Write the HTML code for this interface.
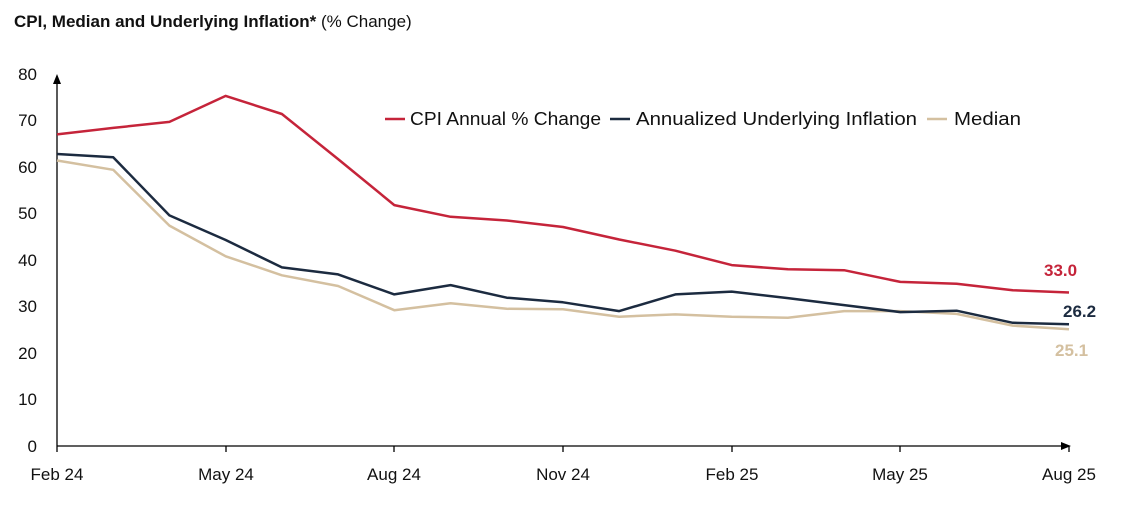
<!DOCTYPE html>
<html><head><meta charset="utf-8"><style>
body{margin:0;background:#fff;width:1121px;height:510px;overflow:hidden;font-family:"Liberation Sans",sans-serif;}
svg text{font-family:"Liberation Sans",sans-serif;}
</style></head><body>
<svg id="s" width="1121" height="510" xmlns="http://www.w3.org/2000/svg">
<text x="14" y="27" font-size="17" fill="#111"><tspan font-weight="bold">CPI, Median and Underlying Inflation*</tspan> (% Change)</text>
<g font-size="17" fill="#111" text-anchor="end">
<text x="37" y="80">80</text><text x="37" y="126">70</text><text x="37" y="173">60</text><text x="37" y="219">50</text><text x="37" y="266">40</text><text x="37" y="312">30</text><text x="37" y="359">20</text><text x="37" y="405">10</text><text x="37" y="452">0</text>
</g>
<line x1="57" y1="446" x2="57" y2="82" stroke="#000" stroke-width="1.3"/>
<polygon points="57,74 53,84 61,84" fill="#000"/>
<line x1="57" y1="446" x2="1062" y2="446" stroke="#000" stroke-width="1.3"/>
<polygon points="1071,446 1061,442 1061,450" fill="#000"/>
<g stroke="#000" stroke-width="1.3">
<line x1="57" y1="446" x2="57" y2="452"/><line x1="226" y1="446" x2="226" y2="452"/><line x1="394" y1="446" x2="394" y2="452"/><line x1="563" y1="446" x2="563" y2="452"/><line x1="732" y1="446" x2="732" y2="452"/><line x1="900" y1="446" x2="900" y2="452"/><line x1="1069" y1="446" x2="1069" y2="452"/>
</g>
<g font-size="17" fill="#111" text-anchor="middle">
<text x="57" y="480">Feb 24</text><text x="226" y="480">May 24</text><text x="394" y="480">Aug 24</text><text x="563" y="480">Nov 24</text><text x="732" y="480">Feb 25</text><text x="900" y="480">May 25</text><text x="1069" y="480">Aug 25</text>
</g>
<g id="lines"></g>
<line x1="385" y1="119" x2="405" y2="119" stroke="#c5243a" stroke-width="2.5"/>
<text x="410" y="125" font-size="18" fill="#111" textLength="191" lengthAdjust="spacingAndGlyphs">CPI Annual % Change</text>
<line x1="610" y1="119" x2="630" y2="119" stroke="#1c2b40" stroke-width="2.5"/>
<text x="636" y="125" font-size="18" fill="#111" textLength="281" lengthAdjust="spacingAndGlyphs">Annualized Underlying Inflation</text>
<line x1="927" y1="119" x2="947" y2="119" stroke="#d4c0a0" stroke-width="2.5"/>
<text x="954" y="125" font-size="18" fill="#111" textLength="67" lengthAdjust="spacingAndGlyphs">Median</text>
<text x="1044" y="276" font-size="17" font-weight="bold" fill="#c5243a">33.0</text>
<text x="1063" y="317" font-size="17" font-weight="bold" fill="#1c2b40">26.2</text>
<text x="1055" y="356" font-size="17" font-weight="bold" fill="#d4c0a0">25.1</text>
</svg>
<script>
var d={"#c5243a":[67,68.4,69.7,75.3,71.4,61.7,51.8,49.3,48.5,47.1,44.4,42.0,38.9,38.0,37.8,35.3,34.9,33.5,33.0],
"#1c2b40":[62.8,62.1,49.6,44.3,38.4,36.9,32.6,34.6,31.9,30.9,29.0,32.6,33.2,31.8,30.3,28.8,29.1,26.5,26.2],
"#d4c0a0":[61.4,59.4,47.4,40.8,36.7,34.4,29.2,30.7,29.5,29.4,27.8,28.3,27.8,27.6,29.0,29.0,28.4,25.9,25.1]};
var g=document.getElementById("lines"),h="",order=["#d4c0a0","#1c2b40","#c5243a"];
order.forEach(function(c){var p=d[c].map(function(v,i){return (57+i*1012/18).toFixed(1)+","+(446-v*4.65).toFixed(1)}).join(" ");
h+='<polyline points="'+p+'" fill="none" stroke="'+c+'" stroke-width="2.5" stroke-linejoin="round"/>';});
g.innerHTML=h;
</script>
</body></html>
